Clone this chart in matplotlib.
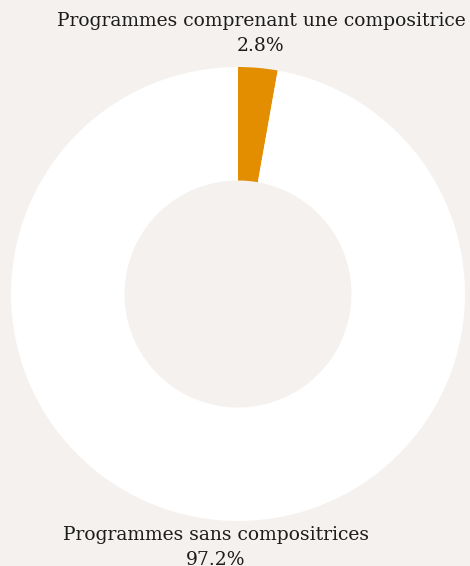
import matplotlib.pyplot as plt

labels = ["Programmes comprenant une compositrice", "Programmes sans compositrices"]
values = [2.8, 97.2]
colors = ["#e28e00", "#ffffff"]
bg = "#f4f1ee"

fig = plt.figure(figsize=(4.70, 5.66), dpi=100, facecolor=bg)
ax = fig.add_axes([0, 0, 1, 1])
ax.set_facecolor(bg)

# pixel-like coordinates, y going up
cx, cy, r_out = 238, 566 - 294, 227
ax.pie(values, colors=colors, startangle=90, counterclock=False,
       center=(cx, cy), radius=r_out,
       wedgeprops=dict(width=r_out * 0.5, linewidth=0))

ax.set_xlim(0, 470)
ax.set_ylim(0, 566)
ax.set_aspect("equal")
ax.axis("off")

font = dict(family="DejaVu Serif", fontsize=13.5, color="#1c1c1c", ha="center")
ax.text(261, 566 - 21, labels[0], va="center", **font)
ax.text(261, 566 - 46, f"{values[0]}%", va="center", **font)
ax.text(216, 566 - 535, labels[1], va="center", **font)
ax.text(216, 566 - 560, f"{values[1]}%", va="center", **font)

fig.savefig("out.png", dpi=100, facecolor=bg)
